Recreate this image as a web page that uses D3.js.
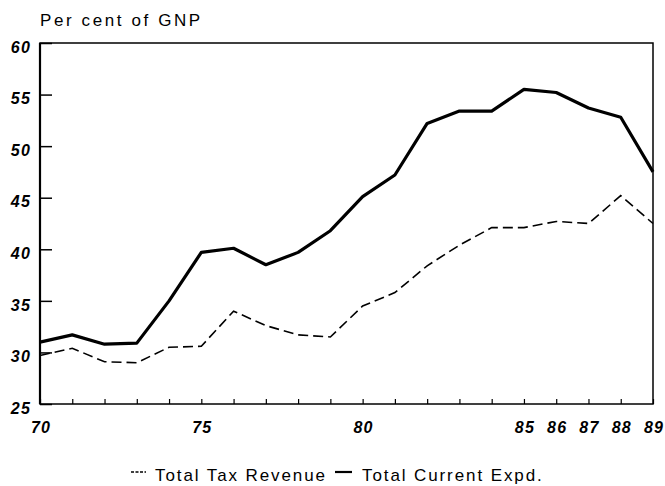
<!DOCTYPE html>
<html>
<head>
<meta charset="utf-8">
<script src="https://cdn.jsdelivr.net/npm/d3@7"></script>
<style>
	body { margin: 0; background: #fff; }
	svg { font-family: "Liberation Sans", Arial, sans-serif; }
	.tick-label { font-style: italic; font-weight: bold; font-size: 16px; letter-spacing: 1.2px; }
	.caption { font-size: 17px; letter-spacing: 1.9px; }
</style>
</head>
<body>
<svg id="chart" width="665" height="486"></svg>
<script>
'use strict';

// years 1970..1989
var years = [1970, 1971, 1972, 1973, 1974, 1975, 1976, 1977, 1978, 1979,
	1980, 1981, 1982, 1983, 1984, 1985, 1986, 1987, 1988, 1989];

var taxRevenue = [29.7, 30.4, 29.1, 29.0, 30.5, 30.6, 34.0, 32.6, 31.7, 31.5,
	34.5, 35.8, 38.4, 40.4, 42.1, 42.1, 42.7, 42.5, 45.2, 42.5];

var currentExpd = [31.0, 31.7, 30.8, 30.9, 35.0, 39.7, 40.1, 38.5, 39.7, 41.8,
	45.1, 47.2, 52.2, 53.4, 53.4, 55.5, 55.2, 53.7, 52.8, 47.5];

var yTicks = [25, 30, 35, 40, 45, 50, 55, 60];
var xLabelYears = [1970, 1975, 1980, 1985, 1986, 1987, 1988, 1989];

var margin = { left: 40, top: 43, right: 12, bottom: 82 };
var svg = d3.select('#chart');
var width = +svg.attr('width');
var height = +svg.attr('height');

var x = d3.scaleLinear()
	.domain([1970, 1989])
	.range([margin.left, width - margin.right]);

var y = d3.scaleLinear()
	.domain([25, 60])
	.range([height - margin.bottom, margin.top]);

// frame
svg.append('rect')
	.attr('x', x(1970))
	.attr('y', y(60))
	.attr('width', x(1989) - x(1970))
	.attr('height', y(25) - y(60))
	.attr('fill', 'none')
	.attr('stroke', '#000')
	.attr('stroke-width', 1.5);

svg.append('line')
	.attr('x1', x(1970)).attr('x2', x(1970))
	.attr('y1', y(60)).attr('y2', y(25))
	.attr('stroke', '#000')
	.attr('stroke-width', 2.2);

// y axis: ticks pointing inwards
var yAxis = svg.append('g')
	.attr('transform', 'translate(' + x(1970) + ',0)')
	.call(d3.axisRight(y).tickValues(yTicks).tickSize(12).tickFormat(''));
yAxis.select('.domain').remove();
yAxis.selectAll('line').attr('stroke-width', 1.5);

svg.append('g').selectAll('text')
	.data(yTicks)
	.enter()
	.append('text')
	.attr('class', 'tick-label')
	.attr('x', 31)
	.attr('y', function(d) { return y(d) + 4; })
	.attr('dy', '0.36em')
	.attr('text-anchor', 'end')
	.text(function(d) { return d; });

// x axis: small ticks pointing up
var xAxis = svg.append('g')
	.attr('transform', 'translate(0,' + y(25) + ')')
	.call(d3.axisTop(x).tickValues(years).tickSize(5).tickFormat(''));
xAxis.select('.domain').remove();
xAxis.selectAll('line').attr('stroke-width', 1.2);

svg.append('g').selectAll('text')
	.data(xLabelYears)
	.enter()
	.append('text')
	.attr('class', 'tick-label')
	.attr('x', function(d) { return x(d) + 1; })
	.attr('y', y(25) + 29)
	.attr('text-anchor', 'middle')
	.text(function(d) { return String(d).slice(2); });

// title
svg.append('text')
	.attr('class', 'caption')
	.attr('x', 40)
	.attr('y', 26)
	.style('letter-spacing', '2.6px')
	.text('Per cent of GNP');

var line = d3.line()
	.x(function(d, i) { return x(years[i]); })
	.y(function(d) { return y(d); });

svg.append('path')
	.datum(taxRevenue)
	.attr('d', line)
	.attr('fill', 'none')
	.attr('stroke', '#000')
	.attr('stroke-width', 1.6)
	.attr('stroke-dasharray', '10,5');

svg.append('path')
	.datum(currentExpd)
	.attr('d', line)
	.attr('fill', 'none')
	.attr('stroke', '#000')
	.attr('stroke-width', 3.2)
	.attr('stroke-linejoin', 'round');

// legend
var legend = svg.append('g').attr('transform', 'translate(0,481)');
legend.append('path')
	.attr('d', 'M131,-9H146')
	.attr('stroke', '#000')
	.attr('stroke-width', 1.5)
	.attr('stroke-dasharray', '3,1.5');
legend.append('text')
	.attr('class', 'caption')
	.attr('x', 155)
	.text('Total Tax Revenue');
legend.append('path')
	.attr('d', 'M335,-9H352')
	.attr('stroke', '#000')
	.attr('stroke-width', 2.2);
legend.append('text')
	.attr('class', 'caption')
	.attr('x', 362)
	.text('Total Current Expd.');
</script>
</body>
</html>
